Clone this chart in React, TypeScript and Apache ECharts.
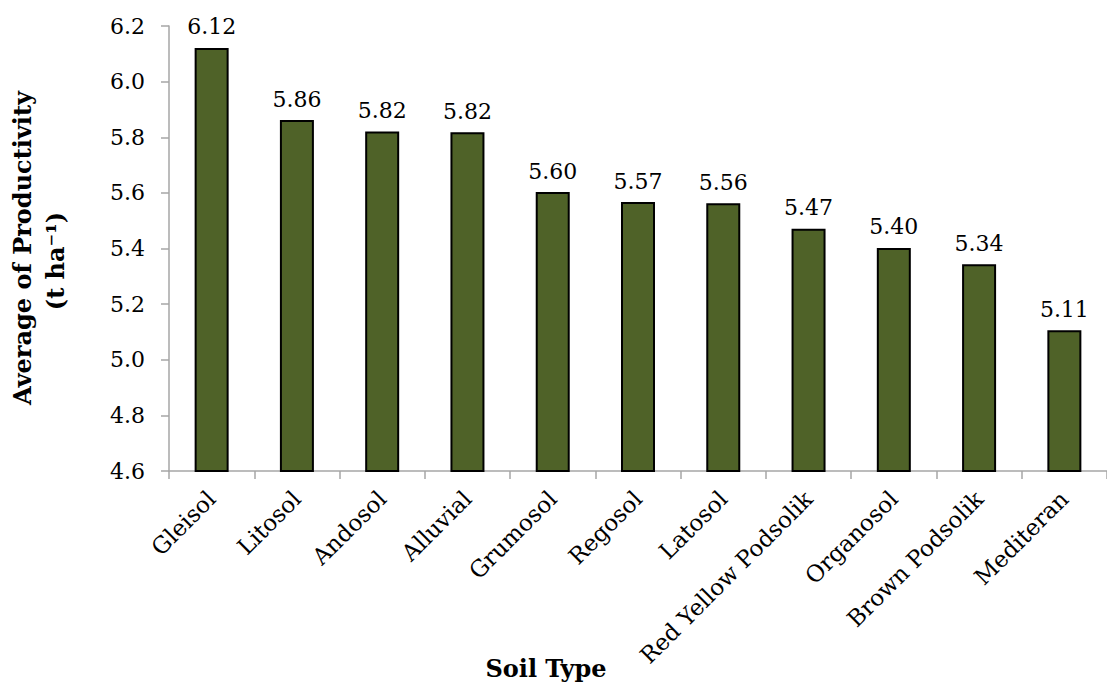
import React, { useEffect, useRef } from "react";
import * as echarts from "echarts";

const categories = [
  "Gleisol",
  "Litosol",
  "Andosol",
  "Alluvial",
  "Grumosol",
  "Regosol",
  "Latosol",
  "Red Yellow Podsolik",
  "Organosol",
  "Brown Podsolik",
  "Mediteran",
];
const productivity = [6.121, 5.862, 5.821, 5.818, 5.603, 5.567, 5.563, 5.471, 5.402, 5.343, 5.106];
const yMin = 4.6;
const yMax = 6.2;
const yStep = 0.2;

const FONT = "DejaVu Serif";

export default function App() {
  const ref = useRef<HTMLDivElement>(null);
  useEffect(() => {
    if (!ref.current) return;
    const chart = echarts.init(ref.current, undefined, { renderer: "svg" });
    chart.setOption({
      animation: false,
      backgroundColor: "#ffffff",
      textStyle: { fontFamily: FONT },
      grid: { left: 169, right: -10, top: 26, bottom: 213, containLabel: false },
      xAxis: {
        type: "category",
        data: categories,
        axisLine: { lineStyle: { color: "#a6a6a6", width: 1.5 } },
        axisTick: { show: true, length: 8, lineStyle: { color: "#a6a6a6", width: 1.5 } },
        axisLabel: {
          rotate: 45,
          interval: 0,
          margin: 24,
          fontFamily: FONT,
          fontSize: 23,
          color: "#000",
        },
      },
      yAxis: {
        type: "value",
        min: yMin,
        max: yMax,
        interval: yStep,
        splitLine: { show: false },
        axisLine: { show: true, lineStyle: { color: "#a6a6a6", width: 1.5 } },
        axisTick: { show: true, length: 8, lineStyle: { color: "#a6a6a6", width: 1.5 } },
        axisLabel: {
          margin: 24,
          fontFamily: FONT,
          fontSize: 22,
          color: "#000",
          formatter: (v: number) => v.toFixed(1),
        },
      },
      graphic: [
        {
          type: "text",
          x: 22,
          y: 248,
          rotation: Math.PI / 2,
          style: {
            text: "Average of Productivity",
            fontFamily: FONT,
            fontWeight: "bold",
            fontSize: 24,
            fill: "#000",
            textAlign: "center",
            textVerticalAlign: "middle",
          },
        },
        {
          type: "text",
          x: 55,
          y: 261,
          rotation: Math.PI / 2,
          style: {
            text: "(t ha⁻¹)",
            fontFamily: FONT,
            fontWeight: "bold",
            fontSize: 24,
            fill: "#000",
            textAlign: "center",
            textVerticalAlign: "middle",
          },
        },
        {
          type: "text",
          x: 546,
          y: 668,
          style: {
            text: "Soil Type",
            fontFamily: FONT,
            fontWeight: "bold",
            fontSize: 24,
            fill: "#000",
            textAlign: "center",
            textVerticalAlign: "middle",
          },
        },
      ],
      series: [
        {
          type: "bar",
          data: productivity,
          barWidth: 34,
          itemStyle: { color: "#4f6228", borderColor: "#000", borderWidth: 2 },
          label: {
            show: true,
            position: "top",
            distance: 10,
            fontFamily: FONT,
            fontSize: 22,
            color: "#000",
            formatter: (p: any) => Number(p.value).toFixed(2),
          },
        },
      ],
    });
    return () => chart.dispose();
  }, []);
  return (
    <div
      ref={ref}
      style={{ position: "fixed", left: 0, top: 0, width: 1107, height: 684 }}
    />
  );
}
